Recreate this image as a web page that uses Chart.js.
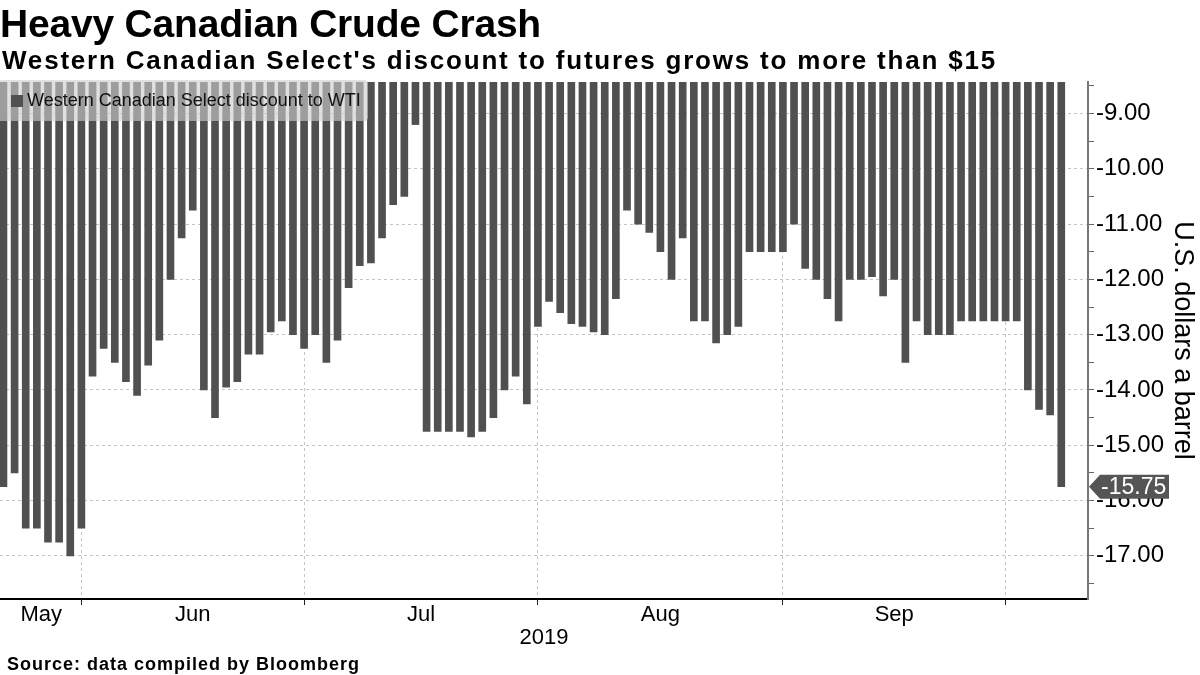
<!DOCTYPE html>
<html>
<head>
<meta charset="utf-8">
<script src="https://cdn.jsdelivr.net/npm/chart.js@4.4.1/dist/chart.umd.min.js"></script>
<style>
  body { margin: 0; background: #fff; }
  #wrap { position: relative; width: 1200px; height: 675px; overflow: hidden; }
  #chart { position: absolute; left: 0; top: 0; }
  .txt { position: absolute; font-family: 'Liberation Sans', Arial, sans-serif; font-weight: bold; color: #000; line-height: 1; white-space: nowrap; }
  #title { left: 0; top: 4px; font-size: 39px; letter-spacing: -0.2px; }
  #subtitle { left: 2px; top: 47px; font-size: 26px; letter-spacing: 1.8px; }
  #source { left: 7px; top: 655px; font-size: 18px; letter-spacing: 1px; }
</style>
</head>
<body>
<div id="wrap">
  <canvas id="chart" width="1200" height="675"></canvas>
  <div class="txt" id="title">Heavy Canadian Crude Crash</div>
  <div class="txt" id="subtitle">Western Canadian Select's discount to futures grows to more than $15</div>
  <div class="txt" id="source">Source: data compiled by Bloomberg</div>
</div>
<script>
// daily WCS discount to WTI, late May - early Oct 2019
const discount = [
  -15.75, -15.5, -16.5, -16.5, -16.75, -16.75, -17.0, -16.5,
  -13.75, -13.25, -13.5, -13.85, -14.1, -13.55, -13.1, -12.0, -11.25, -10.75,
  -14.0, -14.5, -13.95, -13.85, -13.35, -13.35, -12.95, -12.75, -13.0, -13.25,
  -13.0, -13.5, -13.1, -12.15, -11.75, -11.7, -11.25, -10.65, -10.5, -9.2,
  -14.75, -14.75, -14.75, -14.75, -14.85, -14.75, -14.5, -14.0, -13.75, -14.25,
  -12.85, -12.4, -12.6, -12.8, -12.85, -12.95, -13.0, -12.35, -10.75, -11.0,
  -11.15, -11.5, -12.0, -11.25, -12.75, -12.75, -13.15, -13.0, -12.85, -11.5,
  -11.5, -11.5, -11.5, -11.0, -11.8, -12.0, -12.35, -12.75, -12.0, -12.0,
  -11.95, -12.3, -12.0, -13.5, -12.75, -13.0, -13.0, -13.0, -12.75, -12.75,
  -12.75, -12.75, -12.75, -12.75, -14.0, -14.35, -14.45, -15.75
];

// x axis works in trading-day index; month edges fall on these bars
const monthEdges = [7, 27, 48, 70, 90];
const monthNames = ['May', 'Jun', 'Jul', 'Aug', 'Sep'];
const monthNamePos = [3.4, 17, 37.5, 59, 80];
const yearLabel = '2019';

const yTicks = [-17.5, -17, -16.5, -16, -15.5, -15, -14.5, -14, -13.5, -13, -12.5, -12, -11.5, -11, -10.5, -10, -9.5, -9, -8.5];
const Y_MIN = -17.78;
const Y_MAX = -8.43;
const X_MIN = -0.31;
const X_MAX = 97.4;

const BAR_COLOR = '#505050';
const GRID_COLOR = '#c4c4c4';
const FONT = "'Liberation Sans', Arial, sans-serif";

const xTicks = [...monthEdges, ...monthNamePos].sort((a, b) => a - b);
const isEdge = (v) => monthEdges.includes(v);

const overlay = {
  id: 'overlay',
  beforeDraw(chart) {
    const { ctx } = chart;
    ctx.save();
    ctx.fillStyle = '#fff';
    ctx.fillRect(0, 0, chart.width, chart.height);
    ctx.restore();
  },
  afterDatasetsDraw(chart) {
    const { ctx, chartArea } = chart;
    const top = chartArea.top - 2;
    ctx.save();
    // legend box sits on top of the bars
    ctx.fillStyle = 'rgba(205,205,205,0.62)';
    ctx.beginPath();
    ctx.roundRect(-4, top, 372, 41, 4);
    ctx.fill();
    ctx.fillStyle = BAR_COLOR;
    ctx.fillRect(11, top + 15, 12, 12);
    ctx.fillStyle = '#111';
    ctx.font = `18px ${FONT}`;
    ctx.textBaseline = 'middle';
    ctx.fillText(chart.data.datasets[0].label, 27, top + 21);
    ctx.restore();
  },
  afterDraw(chart) {
    const { ctx, chartArea } = chart;
    const last = discount[discount.length - 1];
    const y = chart.scales.y.getPixelForValue(last);
    const x = chartArea.right + 1;
    ctx.save();
    ctx.fillStyle = '#555';
    ctx.beginPath();
    ctx.moveTo(x, y);
    ctx.lineTo(x + 11, y - 12);
    ctx.lineTo(x + 80, y - 12);
    ctx.lineTo(x + 80, y + 12);
    ctx.lineTo(x + 11, y + 12);
    ctx.closePath();
    ctx.fill();
    ctx.fillStyle = '#fff';
    ctx.font = `23px ${FONT}`;
    ctx.textBaseline = 'middle';
    ctx.fillText(last.toFixed(2), x + 12, y + 1);
    ctx.restore();
  },
};

new Chart(document.getElementById('chart'), {
  type: 'bar',
  data: {
    datasets: [{
      label: 'Western Canadian Select discount to WTI',
      data: discount.map((v, i) => ({ x: i, y: v })),
      backgroundColor: BAR_COLOR,
      borderWidth: 0,
      barThickness: 7,
      base: Y_MAX,
    }],
  },
  options: {
    responsive: false,
    animation: false,
    devicePixelRatio: 1,
    layout: { padding: { top: 82, left: 0, right: 0, bottom: 0 } },
    plugins: { legend: { display: false }, tooltip: { enabled: false } },
    scales: {
      x: {
        type: 'linear',
        offset: false,
        min: X_MIN,
        max: X_MAX,
        afterBuildTicks: (scale) => { scale.ticks = xTicks.map((v) => ({ value: v })); },
        afterFit: (scale) => { scale.height = 76; },
        grid: {
          offset: false,
          color: (c) => (c.tick && isEdge(c.tick.value) ? GRID_COLOR : 'transparent'),
          tickColor: (c) => (c.tick && isEdge(c.tick.value) ? '#222' : 'transparent'),
          tickLength: 6,
        },
        border: { color: '#000', width: 2, dash: [3, 3] },
        ticks: {
          autoSkip: false,
          maxRotation: 0,
          padding: -3,
          color: '#000',
          font: { family: FONT, size: 22 },
          callback: (v) => {
            const k = monthNamePos.indexOf(v);
            return k >= 0 ? monthNames[k] : '';
          },
        },
        title: {
          display: true,
          text: yearLabel,
          color: '#000',
          font: { family: FONT, size: 22 },
          padding: { top: 0, bottom: 24 },
        },
      },
      y: {
        position: 'right',
        min: Y_MIN,
        max: Y_MAX,
        afterBuildTicks: (scale) => { scale.ticks = yTicks.map((v) => ({ value: v })); },
        afterFit: (scale) => { scale.width = 112; },
        grid: {
          color: (c) => (c.tick && Number.isInteger(c.tick.value) ? GRID_COLOR : 'transparent'),
          tickColor: '#666',
          tickLength: 6,
        },
        border: { color: '#777', width: 2, dash: [3, 3] },
        ticks: {
          autoSkip: false,
          padding: 2,
          color: '#000',
          font: { family: FONT, size: 24 },
          callback: (v) => (Number.isInteger(v) ? v.toFixed(2) : ''),
        },
        title: {
          display: true,
          text: 'U.S. dollars a barrel',
          color: '#000',
          font: { family: FONT, size: 27 },
          padding: { top: 1, bottom: 0 },
        },
      },
    },
  },
  plugins: [overlay],
});
</script>
</body>
</html>
